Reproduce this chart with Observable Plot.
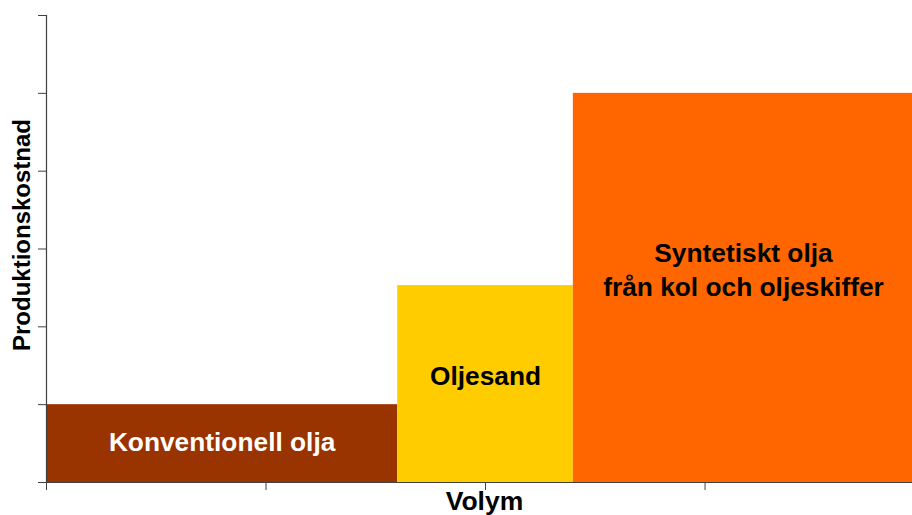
<!DOCTYPE html>
<html><head><meta charset="utf-8">
<script src="https://cdn.jsdelivr.net/npm/d3@7"></script>
<script src="https://cdn.jsdelivr.net/npm/@observablehq/plot@0.6"></script>
<style>html,body{margin:0;padding:0;background:#fff;overflow:hidden;}</style>
</head><body><div id="chart"></div>
<script>
const categories = ["Konventionell olja", "Oljesand", "Syntetiskt olja\nfrån kol och oljeskiffer"];
const volumeStart = [0, 1.6, 2.4];
const volumeEnd = [1.6, 2.4, 3.95];
const cost = [1, 2.53, 5];
const fillColors = ["#993300", "#FFCC00", "#FF6600"];
const labelColors = ["#ffffff", "#000000", "#000000"];
const yTicks = [0, 1, 2, 3, 4, 5, 6];
const xTicks = [0, 1, 2, 3];
const xLabel = "Volym";
const yLabel = "Produktionskostnad";

const data = categories.map((c, i) => ({
  name: c, x1: volumeStart[i], x2: volumeEnd[i], cost: cost[i],
  fill: fillColors[i], label: labelColors[i]
}));

const font = "'Liberation Sans', Arial, sans-serif";
const axisColor = "#404040";

const chart = Plot.plot({
  width: 912,
  height: 515,
  marginLeft: 46,
  marginRight: 0,
  marginTop: 15,
  marginBottom: 33,
  style: {fontFamily: font, background: "#fff"},
  x: {domain: [0, 3.945], axis: null},
  y: {domain: [0, 6], axis: null},
  marks: [
    Plot.rect(data, {x1: "x1", x2: "x2", y1: 0, y2: "cost", fill: "fill"}),
    Plot.axisY(yTicks, {tickSize: 8, tickFormat: () => "", stroke: axisColor, label: null}),
    Plot.axisX(xTicks, {tickSize: 8, tickFormat: () => "", stroke: axisColor, label: null}),
    Plot.ruleX([0], {stroke: axisColor, strokeWidth: 1.2}),
    Plot.ruleY([0], {stroke: axisColor, strokeWidth: 1.2}),
    Plot.text(data, {
      x: d => (d.x1 + d.x2) / 2,
      y: d => d.cost * 0.55,
      text: "name",
      fill: "label",
      fontSize: 26.3,
      fontWeight: "bold",
      lineHeight: 1.3
    }),
    Plot.text([xLabel], {frameAnchor: "bottom", textAnchor: "middle", lineAnchor: "middle", text: d => d, dx: 5, dy: 19, fontSize: 26.5, fontWeight: "bold", fill: "#000"}),
    Plot.text([yLabel], {frameAnchor: "left", textAnchor: "middle", lineAnchor: "middle", text: d => d, rotate: -90, dx: -24, dy: -14, fontSize: 24, fontWeight: "bold", fill: "#000"})
  ]
});
document.getElementById("chart").appendChild(chart);
</script>
</body></html>
